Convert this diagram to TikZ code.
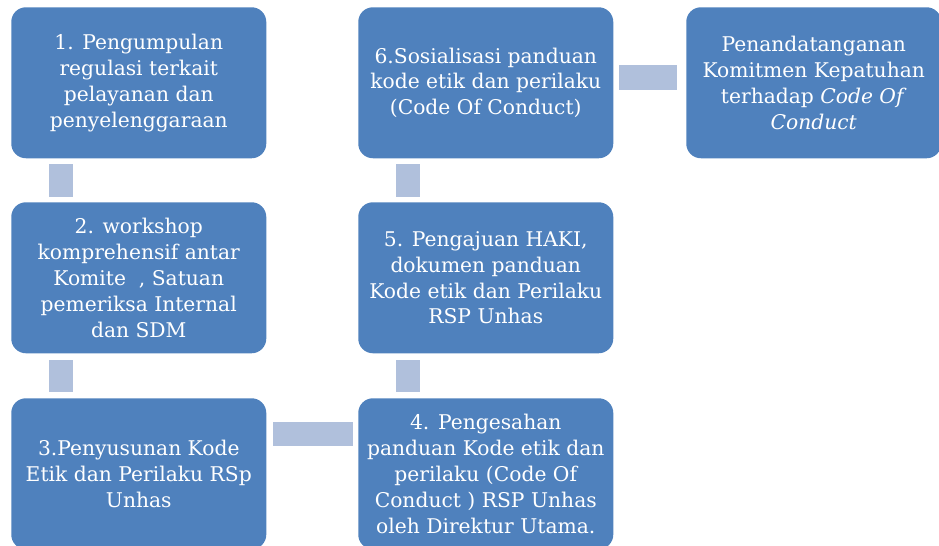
\documentclass[tikz,border=0pt]{standalone}
\usepackage{fontspec}
\setmainfont{DejaVu Serif}
\usetikzlibrary{calc}
\definecolor{boxblue}{RGB}{79,129,189}
\definecolor{connblue}{RGB}{176,192,220}
\tikzset{
  stepbox/.style={rectangle, rounded corners=11pt, fill=boxblue, draw=none,
    minimum width=191.25pt, minimum height=113.25pt, inner sep=0pt,
    text=white, align=center, anchor=north west,
    font=\fontsize{15.2pt}{19.4pt}\selectfont},
  conn/.style={fill=connblue, draw=none}
}
\begin{document}
\begin{tikzpicture}[x=0.75pt,y=-0.75pt]
\useasboundingbox (0,0) rectangle (939,546);
\clip (0,0) rectangle (939,546);
\node[stepbox] (b1) at (11,7) {1. Pengumpulan\\regulasi terkait\\pelayanan dan\\penyelenggaraan};
\node[stepbox] (b2) at (11,202) {2. workshop\\komprehensif antar\\Komite\ \ , Satuan\\pemeriksa Internal\\dan SDM};
\node[stepbox] (b3) at (11,398) {3.Penyusunan Kode\\Etik dan Perilaku RSp\\Unhas};
\node[stepbox] (b4) at (358,398) {4. Pengesahan\\panduan Kode etik dan\\perilaku (Code Of\\Conduct ) RSP Unhas\\oleh Direktur Utama.};
\node[stepbox] (b5) at (358,202) {5. Pengajuan HAKI,\\dokumen panduan\\Kode etik dan Perilaku\\RSP Unhas};
\node[stepbox] (b6) at (358,7) {6.Sosialisasi panduan\\kode etik dan perilaku\\(Code Of Conduct)};
\node[stepbox] (b7) at (686,7) {Penandatanganan\\Komitmen Kepatuhan\\terhadap \textit{Code Of}\\\textit{Conduct}};
% connectors
\fill[conn] ($(b1.south west)+(38,5)$) rectangle ($(b2.north west)+(62,-5)$);
\fill[conn] ($(b2.south west)+(38,6)$) rectangle ($(b3.north west)+(62,-6)$);
\fill[conn] ($(b3.north east)+(6,24)$) rectangle ($(b4.north west)+(-5,48)$);
\fill[conn] ($(b4.north west)+(38,-6)$) rectangle ($(b5.south west)+(62,6)$);
\fill[conn] ($(b5.north west)+(38,-5)$) rectangle ($(b6.south west)+(62,5)$);
\fill[conn] ($(b6.north east)+(5,58)$) rectangle ($(b7.north west)+(-9,83)$);
\end{tikzpicture}
\end{document}
